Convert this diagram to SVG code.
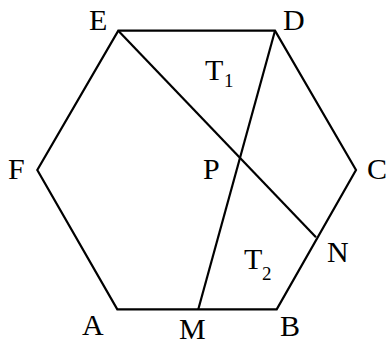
<svg xmlns="http://www.w3.org/2000/svg" width="388" height="345" viewBox="0 0 388 345">
<style>
.l{stroke:#000;stroke-width:2.2;fill:none;stroke-linejoin:miter}
text{font-family:"Liberation Serif","Times New Roman",serif;font-size:30px;fill:#000}
.s{font-size:19px}
</style>
<rect width="388" height="345" fill="#fff"/>
<g id="hexagon">
<polygon class="l" points="118.3,30.7 275,30.7 356,170 276.7,309.3 117.3,309.3 37.3,170"/>
</g>
<g id="connectors">
<line class="l" x1="118.3" y1="30.7" x2="316" y2="237.3"/>
<line class="l" x1="275" y1="30.7" x2="198.3" y2="309.3"/>
</g>
<g id="labels">
<text x="89" y="30">E</text>
<text x="283" y="30">D</text>
<text x="8" y="179">F</text>
<text x="203" y="179">P</text>
<text x="367" y="179">C</text>
<text x="327" y="262">N</text>
<text x="82" y="335">A</text>
<text x="179" y="339">M</text>
<text x="280" y="336">B</text>
<text x="205" y="80">T<tspan class="s" x="224" y="87">1</tspan></text>
<text x="244" y="269">T<tspan class="s" x="262" y="280">2</tspan></text>
</g>
</svg>
